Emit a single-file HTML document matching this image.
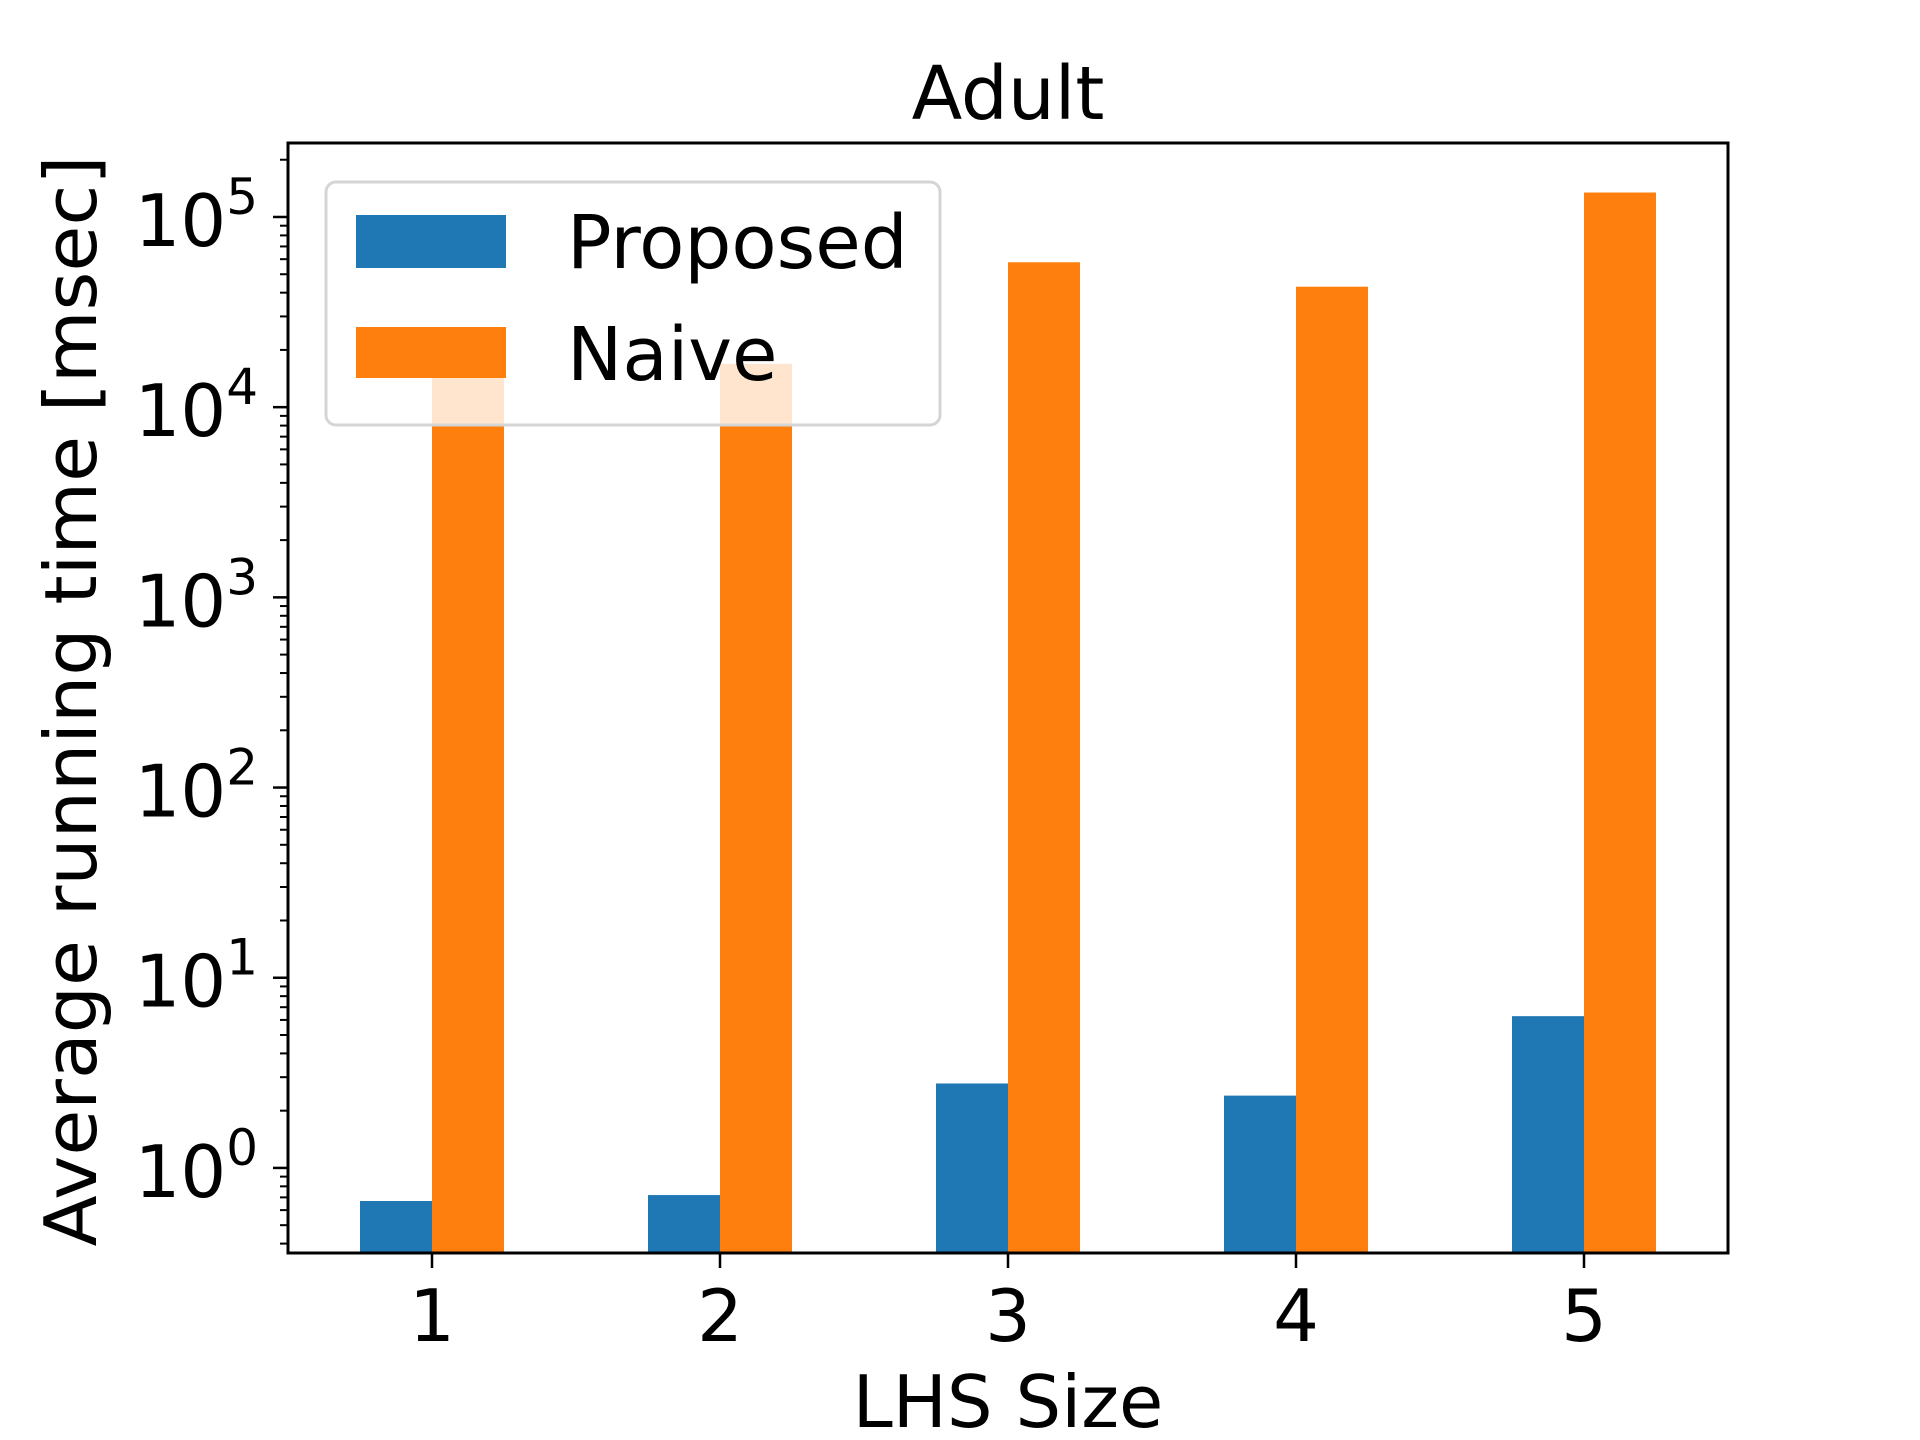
<!DOCTYPE html>
<html><head><meta charset="utf-8"><style>
html,body{margin:0;padding:0;background:#fff;}
svg{display:block;font-family:"DejaVu Sans","Liberation Sans",sans-serif;}
</style></head><body>
<svg id="chart" width="1920" height="1440" viewBox="0 0 1920 1440">
<text x="1008" y="119" font-size="74" text-anchor="middle">Adult</text>
<g id="bars"></g>
<g id="axes"></g>
<text transform="translate(96,701) rotate(-90)" font-size="72" text-anchor="middle" textLength="1091" lengthAdjust="spacingAndGlyphs">Average running time [msec]</text>
<text x="1008" y="1427" font-size="72" text-anchor="middle">LHS Size</text>
<g>
<rect x="326" y="182" width="614" height="243" rx="10" fill="#fff" fill-opacity="0.8" stroke="#d5d5d5" stroke-width="3"/>
<rect x="356" y="215" width="150" height="53" fill="#1f77b4"/>
<text x="567" y="268" font-size="74">Proposed</text>
<rect x="356" y="327" width="150" height="51" fill="#ff7f0e"/>
<text x="567" y="380" font-size="74">Naive</text>
</g>
</svg>
<script>
const categories = [1, 2, 3, 4, 5];
const proposed = [0.67, 0.72, 2.78, 2.40, 6.28];
const naive = [14500, 16900, 57800, 43000, 134500];
const yTickExps = [0, 1, 2, 3, 4, 5];

const NS = "http://www.w3.org/2000/svg";
const L = 288, R = 1728, T = 143, B = 1253;
const logMin = Math.log10(0.357), logMax = 5.389;
function xs(v){ return L + (v - 0.5) / 5 * (R - L); }
function ys(v){ return B - (Math.log10(v) - logMin) / (logMax - logMin) * (B - T); }
function mk(tag, attrs, parent){ const e = document.createElementNS(NS, tag); for (const k in attrs) e.setAttribute(k, attrs[k]); parent.appendChild(e); return e; }

const bars = document.getElementById('bars');
const axes = document.getElementById('axes');
const bw = 0.25;
categories.forEach((c, i) => {
  const x0 = xs(c - bw), x1 = xs(c), x2 = xs(c + bw);
  let y = ys(proposed[i]);
  const b1 = mk('rect', {x: x0, y: y, width: x1 - x0, height: B - y, fill: '#1f77b4'}, bars);
  
  
  y = ys(naive[i]);
  const b2 = mk('rect', {x: x1, y: y, width: x2 - x1, height: B - y, fill: '#ff7f0e'}, bars);
  
  
  const t = mk('line', {x1: x1, x2: x1, y1: B, y2: B + 15, stroke: '#000', 'stroke-width': 2.5}, axes);
  
  
  const lb = mk('text', {x: x1, y: 1341, 'font-size': 72, 'text-anchor': 'middle'}, axes);
  lb.textContent = c;
  
  
});
for (let e = -1; e <= 5; e++) {
  for (let m = 2; m <= 9; m++) {
    const v = m * Math.pow(10, e);
    const yy = ys(v);
    if (yy < T || yy > B) continue;
    const mt = mk('line', {x1: L - 8, x2: L, y1: yy, y2: yy, stroke: '#000', 'stroke-width': 2}, axes);
    
    
  }
}
yTickExps.forEach(k => {
  const yy = ys(Math.pow(10, k));
  const mt = mk('line', {x1: L - 15, x2: L, y1: yy, y2: yy, stroke: '#000', 'stroke-width': 2.5}, axes);
  
  
  const tx = mk('text', {x: 258, y: yy + 29, 'font-size': 72, 'text-anchor': 'end'}, axes);
  
  
  const t1 = mk('tspan', {}, tx); t1.textContent = '10';
  const t2 = mk('tspan', {'font-size': 50, dy: -32}, tx); t2.textContent = String(k);
});
const frame = mk('rect', {x: L, y: T, width: R - L, height: B - T, fill: 'none', stroke: '#000', 'stroke-width': 3}, axes);


</script>
</body></html>
